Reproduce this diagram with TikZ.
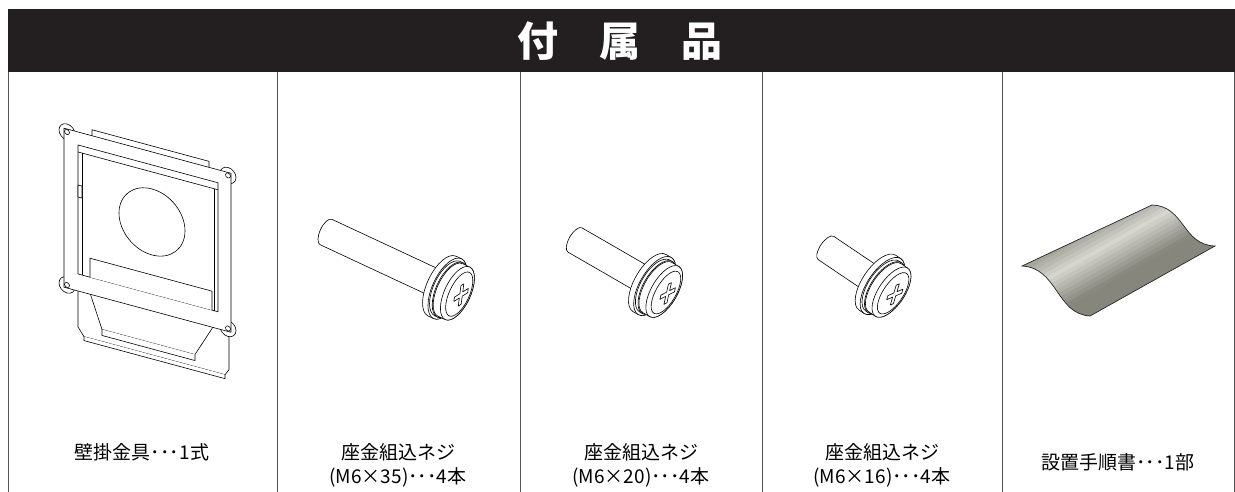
\documentclass[tikz,border=0pt]{standalone}
\usepackage{fontspec}
\newfontfamily\jp{Noto Sans CJK JP}
\usetikzlibrary{positioning}

\definecolor{hdrblack}{HTML}{231F20}
\definecolor{gridgray}{HTML}{555555}
\definecolor{papmid}{HTML}{D6D6CE}
\definecolor{papdark}{HTML}{86867D}

\tikzset{
  hdr/.style={fill=hdrblack},
  grid/.style={draw=gridgray, line width=0.9pt},
  part/.style={draw=black, line width=0.6pt, fill=white, line join=round},
  item/.style={inner sep=0pt, align=center, font=\jp\fontsize{19}{24}\selectfont},
  pics/screw/.style={code={
    % shaft with round end
    \filldraw[part] (#1,-14) -- (0,-14) arc[start angle=270,end angle=90,x radius=6,y radius=14] -- (#1,14);
    % washer and head
    \foreach \a/\b/\r/\e in {0/6/33/15, 6/9/30/14, 9/17/29/13} {
      \filldraw[part] (#1+\a,-\r) arc[start angle=270,end angle=90,x radius=\e,y radius=\r]
        -- (#1+\b,\r) arc[start angle=90,end angle=-90,x radius=\e,y radius=\r] -- cycle;
      \draw[part] (#1+\b,0) ellipse[x radius=\e,y radius=\r];
    }
    \draw[part] (#1+19,0) ellipse[x radius=10,y radius=24];
    % cross recess
    \begin{scope}[shift={(#1+21,0)}, cm={0.45,0,0,1,(0,0)}, rotate=35]
      \filldraw[part] (-12,-2.5) -- (-2.5,-2.5) -- (-2.5,-12) -- (2.5,-12) -- (2.5,-2.5) -- (12,-2.5)
        -- (12,2.5) -- (2.5,2.5) -- (2.5,12) -- (-2.5,12) -- (-2.5,2.5) -- (-12,2.5) -- cycle;
    \end{scope}
  }}
}

\begin{document}
\begin{tikzpicture}[x=1pt, y=-1pt]
  \useasboundingbox (0,0) rectangle (1235,492);

  % header
  \fill[hdr] (8,9) rectangle (1235,72);
  \node[text=white, font=\jp\bfseries\fontsize{41}{41}\selectfont] (title) at (620,41)
    {付\hspace{41pt}属\hspace{41pt}品};

  % columns
  \foreach \x in {8,277,520,762,1002,1234}
    \draw[grid] (\x,72) -- (\x,492);

  % wall bracket
  \begin{scope}[shift={(67,132)}, yslant=-0.27]
    \filldraw[part] (11,150) -- (11,192) -- (17,200) -- (158,200) -- (162,194) -- (162,150) -- cycle;
    \draw[part] (22,152) -- (35,188) -- (128,188) -- (148,152);
    \draw[part] (35,188) -- (35,194) -- (128,194) -- (128,188);
    \draw[part] (17,200) -- (17,204) -- (158,204) -- (158,200);
    \filldraw[part] (25,-9) rectangle (142,0);
    \foreach \cx/\cy in {0/0,161/0,0/153,161/153}
      \filldraw[part] (\cx,\cy) circle (8);
    \filldraw[part, even odd rule] (-3,-3) rectangle (164,156) (11,10) rectangle (151,139);
    \foreach \cx/\cy in {0/0,161/0,0/153,161/153}
      \draw[part] (\cx,\cy) circle (2.5);
    \draw[part] (11,17) -- (151,17);
    \draw[part] (15,17) -- (15,139);
    \draw[part] (147,17) -- (147,139);
    \draw[part] (11,50) rectangle (15,62);
    \draw[part] (85,67) circle (33);
    \draw[part] (23,139) -- (23,120) -- (145,120) -- (145,139);
  \end{scope}

  % screws
  \pic[rotate=-25] at (326,232) {screw=128};
  \pic[rotate=-30] at (575,240) {screw=86};
  \pic[rotate=-34] at (826,248) {screw=62};

  % instruction sheet
  \begin{scope}
    \clip (1022,266) .. controls (1058,268) and (1056,314) .. (1090,316) -- (1215,246)
      .. controls (1182,245) and (1185,206) .. (1152,205) -- cycle;
    \foreach \t [evaluate=\t as \p using {min(100,abs(\t-7)*12)},
                 evaluate=\t as \o using {4*\t-4}] in {0,...,22}
      \draw[line width=4.6pt, papdark!\p!papmid]
        ({1022+0.489*\o-120*0.873},{266+0.873*\o+120*0.489})
        -- ({1022+0.489*\o+300*0.873},{266+0.873*\o-300*0.489});
  \end{scope}
  \draw[line width=0.7pt, black!85]
    (1022,266) .. controls (1058,268) and (1056,314) .. (1090,316) -- (1215,246)
    .. controls (1182,245) and (1185,206) .. (1152,205) -- cycle;

  % labels
  \node[item] (lblbracket) at (142,452) {壁掛金具･･･1式};
  \node[item] (lblscrewA) at (398,465) {座金組込ネジ\\(M6×35)･･･4本};
  \node[item] (lblscrewB) at (641,465) {座金組込ネジ\\(M6×20)･･･4本};
  \node[item] (lblscrewC) at (882,465) {座金組込ネジ\\(M6×16)･･･4本};
  \node[item] (lblsheet) at (1118,462) {設置手順書･･･1部};
\end{tikzpicture}
\end{document}
